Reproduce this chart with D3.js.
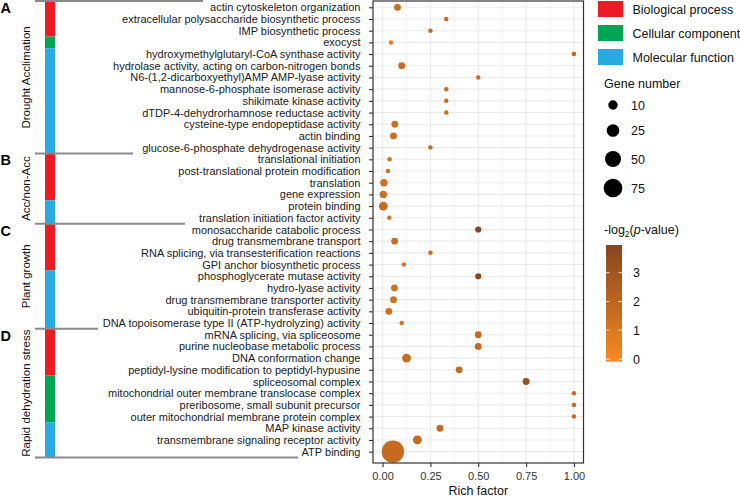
<!DOCTYPE html>
<html>
<head>
<meta charset="utf-8">
<script src="https://cdn.jsdelivr.net/npm/d3@7/dist/d3.min.js"></script>
<style>
  html, body { margin: 0; padding: 0; background: #fff; }
  svg { display: block; font-family: "Liberation Sans", Arial, Helvetica, sans-serif; }
</style>
</head>
<body>
<svg id="chart" width="740" height="496"></svg>
<script>
// ---------------- DATA ----------------
const categories = [
  "actin cytoskeleton organization",
  "extracellular polysaccharide biosynthetic process",
  "IMP biosynthetic process",
  "exocyst",
  "hydroxymethylglutaryl-CoA synthase activity",
  "hydrolase activity, acting on carbon-nitrogen bonds",
  "N6-(1,2-dicarboxyethyl)AMP AMP-lyase activity",
  "mannose-6-phosphate isomerase activity",
  "shikimate kinase activity",
  "dTDP-4-dehydrorhamnose reductase activity",
  "cysteine-type endopeptidase activity",
  "actin binding",
  "glucose-6-phosphate dehydrogenase activity",
  "translational initiation",
  "post-translational protein modification",
  "translation",
  "gene expression",
  "protein binding",
  "translation initiation factor activity",
  "monosaccharide catabolic process",
  "drug transmembrane transport",
  "RNA splicing, via transesterification reactions",
  "GPI anchor biosynthetic process",
  "phosphoglycerate mutase activity",
  "hydro-lyase activity",
  "drug transmembrane transporter activity",
  "ubiquitin-protein transferase activity",
  "DNA topoisomerase type II (ATP-hydrolyzing) activity",
  "mRNA splicing, via spliceosome",
  "purine nucleobase metabolic process",
  "DNA conformation change",
  "peptidyl-lysine modification to peptidyl-hypusine",
  "spliceosomal complex",
  "mitochondrial outer membrane translocase complex",
  "preribosome, small subunit precursor",
  "outer mitochondrial membrane protein complex",
  "MAP kinase activity",
  "transmembrane signaling receptor activity",
  "ATP binding"
];
const ontology = [
  "BP","BP","BP","CC","MF","MF","MF","MF","MF","MF","MF","MF","MF",
  "BP","BP","BP","BP","MF","MF",
  "BP","BP","BP","BP","MF","MF","MF","MF","MF",
  "BP","BP","BP","BP","CC","CC","CC","CC","MF","MF","MF"
];
const richFactor = [
  0.078, 0.333, 0.25, 0.044, 1.0, 0.10, 0.5, 0.333, 0.333, 0.333, 0.064, 0.057, 0.25,
  0.037, 0.028, 0.007, 0.004, 0.004, 0.035,
  0.5, 0.063, 0.25, 0.111, 0.5, 0.062, 0.057, 0.033, 0.10,
  0.5, 0.5, 0.125, 0.40, 0.75, 1.0, 1.0, 1.0, 0.30, 0.182, 0.054
];
const geneNumber = [
  3, 1, 1, 1, 1, 3, 1, 1, 1, 1, 3, 3, 1,
  1, 1, 4, 4, 8, 1,
  2, 3, 1, 1, 2, 3, 3, 3, 1,
  3, 3, 8, 3, 3, 1, 1, 1, 3, 8, 120
];
const negLog2P = [
  1.5, 1.6, 1.7, 0.6, 1.9, 1.6, 1.5, 1.6, 1.6, 1.6, 1.4, 1.4, 1.6,
  1.3, 1.4, 1.5, 1.5, 1.6, 1.3,
  3.96, 1.5, 1.5, 1.3, 3.9, 1.4, 1.4, 1.4, 1.3,
  1.7, 1.7, 1.6, 1.7, 3.3, 1.7, 1.7, 1.7, 1.7, 1.7, 1.7
];
const groupLetters = ["A", "B", "C", "D"];
const groupNames = ["Drought Acclimation", "Acc/non-Acc", "Plant growth", "Rapid dehydration stress"];
const groupSizes = [13, 6, 9, 11];

const ontologyKeys = ["BP", "CC", "MF"];
const ontologyLabels = ["Biological process", "Cellular component", "Molecular function"];
const xTicks = [0, 0.25, 0.5, 0.75, 1.0];
const xMinorTicks = [0.125, 0.375, 0.625, 0.875];
const sizeLegendValues = [10, 25, 50, 75];
const colorTicks = [0, 1, 2, 3];
const colorLimits = [-0.09, 3.96];
const geneLimits = [1, 120];

// ---------------- LAYOUT ----------------
const W = 740, H = 496;
const panel = { left: 373, right: 583.5, top: 1, bottom: 463 };
const rowsTop = 1.45, rowsBottom = 457.5;
const sepLineEnds = [203, 133, 185, 98, 298];   // right ends of the grey separators
const textFont = "Liberation Sans, Arial, sans-serif";
const ontologyColors = { BP: "#ED1C24", CC: "#00A651", MF: "#29ABE2" };

const svg = d3.select("#chart");
svg.append("rect").attr("width", W).attr("height", H).attr("fill", "#fff");

// scales
const x = d3.scaleLinear().domain([-0.05, 1.05]).range([panel.left, panel.right]);
const y = d3.scaleBand().domain(categories).range([rowsTop, rowsBottom]).paddingInner(0).paddingOuter(0);
const yc = d => y(d) + y.bandwidth() / 2;
const geneNorm = d3.scaleLinear().domain(geneLimits).range([0, 1]).clamp(true);
const radiusLin = d3.scaleLinear().domain([0, 1]).range([2.25, 11.25]);
const radius = v => radiusLin(Math.sqrt(geneNorm(v)));
const color = d3.scaleLinear().domain(colorLimits).range(["#F98A20", "#86461F"]).interpolate(d3.interpolateLab);

// ---------------- PANEL ----------------
const gGrid = svg.append("g");
gGrid.selectAll(".vminor").data(xMinorTicks).join("line")
  .attr("x1", d => x(d)).attr("x2", d => x(d))
  .attr("y1", panel.top).attr("y2", panel.bottom)
  .attr("stroke", "#EBEBEB").attr("stroke-width", 0.6);
gGrid.selectAll(".vmajor").data(xTicks).join("line")
  .attr("x1", d => x(d)).attr("x2", d => x(d))
  .attr("y1", panel.top).attr("y2", panel.bottom)
  .attr("stroke", "#EBEBEB").attr("stroke-width", 1.1);
gGrid.selectAll(".hmajor").data(categories).join("line")
  .attr("x1", panel.left).attr("x2", panel.right)
  .attr("y1", d => yc(d)).attr("y2", d => yc(d))
  .attr("stroke", "#EBEBEB").attr("stroke-width", 1.1);

// points
const pts = categories.map((c, i) => ({ c, rf: richFactor[i], g: geneNumber[i], p: negLog2P[i] }));
svg.append("g").selectAll("circle").data(pts).join("circle")
  .attr("cx", d => x(d.rf))
  .attr("cy", d => yc(d.c))
  .attr("r", d => radius(d.g))
  .attr("fill", d => color(d.p));

// border
svg.append("rect")
  .attr("x", panel.left).attr("y", panel.top)
  .attr("width", panel.right - panel.left).attr("height", panel.bottom - panel.top)
  .attr("fill", "none").attr("stroke", "#333").attr("stroke-width", 1.2);

// y axis
const yAxis = svg.append("g").attr("transform", `translate(${panel.left},0)`)
  .call(d3.axisLeft(d3.scalePoint().domain(categories).range([yc(categories[0]), yc(categories[categories.length - 1])]))
    .tickSize(4).tickPadding(8.5));
yAxis.select(".domain").remove();
yAxis.selectAll(".tick line").attr("stroke", "#333").attr("stroke-width", 1.1);
yAxis.selectAll(".tick text").attr("font-size", 11).attr("fill", "#1a1a1a").attr("font-family", textFont);

// x axis
const xAxis = svg.append("g").attr("transform", `translate(0,${panel.bottom})`)
  .call(d3.axisBottom(x).tickValues(xTicks).tickFormat(d3.format(".2f")).tickSize(4).tickPadding(5.5));
xAxis.select(".domain").remove();
xAxis.selectAll(".tick line").attr("stroke", "#333").attr("stroke-width", 1.1);
xAxis.selectAll(".tick text").attr("font-size", 11).attr("fill", "#333").attr("font-family", textFont);

svg.append("text")
  .attr("x", (x(0) + x(1)) / 2).attr("y", 494.5)
  .attr("text-anchor", "middle").attr("font-size", 12.5).attr("fill", "#111")
  .text("Rich factor");

// ---------------- LEFT ANNOTATION ----------------
// ontology colour bar (runs of identical ontology)
const runs = [];
categories.forEach((c, i) => {
  const last = runs[runs.length - 1];
  if (last && last.key === ontology[i]) last.end = c;
  else runs.push({ key: ontology[i], start: c, end: c });
});
svg.append("g").selectAll("rect").data(runs).join("rect")
  .attr("x", 45).attr("width", 10)
  .attr("y", d => y(d.start))
  .attr("height", d => y(d.end) + y.bandwidth() - y(d.start))
  .attr("fill", d => ontologyColors[d.key]);

// group boundaries
let acc = 0;
const groups = groupSizes.map((n, i) => {
  const first = categories[acc], last = categories[acc + n - 1];
  acc += n;
  return { letter: groupLetters[i], name: groupNames[i], top: y(first), bottom: y(last) + y.bandwidth() };
});
const boundaries = groups.map(g => g.top).concat([groups[groups.length - 1].bottom]);
svg.append("g").selectAll("line").data(boundaries).join("line")
  .attr("x1", 35).attr("x2", (d, i) => sepLineEnds[i])
  .attr("y1", (d, i) => i === 0 ? d - 0.5 : d).attr("y2", (d, i) => i === 0 ? d - 0.5 : d)
  .attr("stroke", "#8a8a8a").attr("stroke-width", 2);

svg.append("g").selectAll("text").data(groups).join("text")
  .attr("x", 0.5).attr("y", d => d.top + 12)
  .attr("font-size", 14.5).attr("font-weight", "bold").attr("fill", "#000")
  .text(d => d.letter);

svg.append("g").selectAll("text").data(groups).join("text")
  .attr("transform", d => `translate(29.5,${(d.top + d.bottom) / 2}) rotate(-90)`)
  .attr("text-anchor", "middle").attr("font-size", 11.5).attr("fill", "#111")
  .text(d => d.name);

// ---------------- LEGENDS ----------------
const lg = svg.append("g");
ontologyKeys.forEach((k, i) => {
  lg.append("rect").attr("x", 598).attr("y", 1 + i * 24).attr("width", 25).attr("height", 16)
    .attr("fill", ontologyColors[k]);
  lg.append("text").attr("x", 632.5).attr("y", 13.5 + i * 24)
    .attr("font-size", 12.5).attr("fill", "#111").text(ontologyLabels[i]);
});

lg.append("text").attr("x", 604).attr("y", 87.5).attr("font-size", 12.5).attr("fill", "#111").text("Gene number");
const sizeY = [105, 130.5, 159, 188];
sizeLegendValues.forEach((v, i) => {
  lg.append("circle").attr("cx", 613).attr("cy", sizeY[i]).attr("r", radius(v)).attr("fill", "#000");
  lg.append("text").attr("x", 631).attr("y", sizeY[i] + 4.5).attr("font-size", 12.5).attr("fill", "#111").text(v);
});

// colour bar
const ct = lg.append("text").attr("x", 604).attr("y", 234).attr("font-size", 12.5).attr("fill", "#111");
ct.append("tspan").text("-log");
ct.append("tspan").attr("font-size", 8.5).attr("dy", 3).text("2");
ct.append("tspan").attr("dy", -3).text("(");
ct.append("tspan").attr("font-style", "italic").text("p");
ct.append("tspan").text("-value)");

const barTop = 245, barBottom = 361.7;
const cy = d3.scaleLinear().domain(colorLimits).range([barBottom, barTop]);
const defs = svg.append("defs");
const grad = defs.append("linearGradient").attr("id", "cgrad")
  .attr("x1", 0).attr("y1", 1).attr("x2", 0).attr("y2", 0);
d3.range(0, 1.0001, 0.1).forEach(t => {
  grad.append("stop").attr("offset", t)
    .attr("stop-color", color(colorLimits[0] + t * (colorLimits[1] - colorLimits[0])));
});
lg.append("rect").attr("x", 606).attr("y", barTop).attr("width", 16).attr("height", barBottom - barTop)
  .attr("fill", "url(#cgrad)");
colorTicks.forEach(v => {
  lg.append("line").attr("x1", 606).attr("x2", 609.5).attr("y1", cy(v)).attr("y2", cy(v))
    .attr("stroke", "#fff").attr("stroke-width", 0.8);
  lg.append("line").attr("x1", 618.5).attr("x2", 622).attr("y1", cy(v)).attr("y2", cy(v))
    .attr("stroke", "#fff").attr("stroke-width", 0.8);
  lg.append("text").attr("x", 633).attr("y", cy(v) + 4.5).attr("font-size", 12.5).attr("fill", "#111").text(v);
});
</script>
</body>
</html>
